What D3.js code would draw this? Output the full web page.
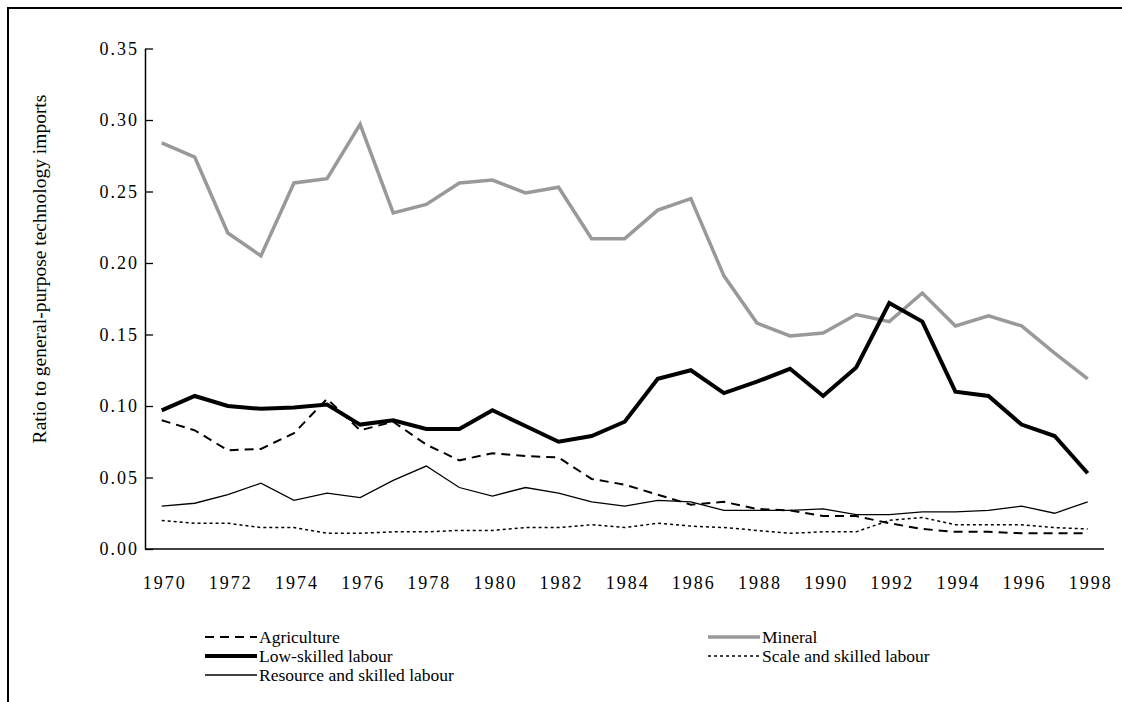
<!DOCTYPE html>
<html><head><meta charset="utf-8">
<script src="https://cdn.jsdelivr.net/npm/d3@7"></script>
<style>body{margin:0;background:#fff}svg{display:block}</style>
</head><body>
<script>
const years = d3.range(1970, 1999);
const agriculture = [0.090,0.083,0.069,0.070,0.081,0.105,0.083,0.089,0.073,0.062,0.067,0.065,0.064,0.049,0.045,0.038,0.031,0.033,0.028,0.027,0.023,0.023,0.018,0.014,0.012,0.012,0.011,0.011,0.011];
const mineral = [0.284,0.274,0.221,0.205,0.256,0.259,0.297,0.235,0.241,0.256,0.258,0.249,0.253,0.217,0.217,0.237,0.245,0.191,0.158,0.149,0.151,0.164,0.159,0.179,0.156,0.163,0.156,0.137,0.119];
const lowSkilled = [0.097,0.107,0.100,0.098,0.099,0.101,0.087,0.090,0.084,0.084,0.097,0.086,0.075,0.079,0.089,0.119,0.125,0.109,0.117,0.126,0.107,0.127,0.172,0.159,0.110,0.107,0.087,0.079,0.053];
const scaleSkilled = [0.020,0.018,0.018,0.015,0.015,0.011,0.011,0.012,0.012,0.013,0.013,0.015,0.015,0.017,0.015,0.018,0.016,0.015,0.013,0.011,0.012,0.012,0.020,0.022,0.017,0.017,0.017,0.015,0.014];
const resourceSkilled = [0.030,0.032,0.038,0.046,0.034,0.039,0.036,0.048,0.058,0.043,0.037,0.043,0.039,0.033,0.030,0.034,0.033,0.027,0.027,0.027,0.028,0.024,0.024,0.026,0.026,0.027,0.030,0.025,0.033];
const yTicks = [0,0.05,0.10,0.15,0.20,0.25,0.30,0.35];
const xTickLabels = d3.range(1970, 1999, 2);
const yTitle = "Ratio to general-purpose technology imports";

const FONT = "'Liberation Serif', 'Times New Roman', 'DejaVu Serif', serif";
const W = 1122, H = 702;
const svg = d3.select("body").append("svg").attr("width", W).attr("height", H)
  .style("font-family", FONT);
svg.append("rect").attr("x", 8).attr("y", 8).attr("width", 1300).attr("height", 900)
  .attr("fill", "none").attr("stroke", "#000").attr("stroke-width", 2);

const x = d3.scaleLinear().domain([1970, 1998]).range([161.7, 1087.7]);
const y = d3.scaleLinear().domain([0, 0.35]).range([549, 48.5]);
const axisLeftX = 145, axisRightX = 1104;

// y axis
const gy = svg.append("g").attr("transform", `translate(${axisLeftX},0)`);
gy.call(d3.axisLeft(y).tickValues(yTicks).tickFormat(d3.format(".2f")).tickSizeInner(-8).tickSizeOuter(0).tickPadding(6));
gy.attr("font-family", FONT).attr("font-size", 18);
gy.select(".domain").attr("stroke-width", 1.5);
gy.selectAll(".tick line").attr("stroke-width", 1.3);
gy.selectAll("text").style("font-family", FONT).attr("font-size", 18).attr("letter-spacing", 2);

// x axis
const gx = svg.append("g").attr("transform", `translate(0,${y(0)})`);
gx.append("line").attr("x1", axisLeftX).attr("x2", axisRightX).attr("stroke", "#000").attr("stroke-width", 1.5);
gx.selectAll("text").data(xTickLabels).join("text")
  .attr("x", d => x(d) + 3).attr("y", 40).attr("text-anchor", "middle").attr("font-size", 18)
  .attr("letter-spacing", 2).style("font-family", FONT).text(d => d);

// y title
svg.append("text").attr("transform", `translate(46,269) rotate(-90)`)
  .attr("text-anchor", "middle").attr("font-size", 19.5).style("font-family", FONT).text(yTitle);

const series = [
  {name: "Agriculture", vals: agriculture, color: "#000", w: 2, dash: "9,6"},
  {name: "Mineral", vals: mineral, color: "#999", w: 3.5, dash: null},
  {name: "Low-skilled labour", vals: lowSkilled, color: "#000", w: 4, dash: null},
  {name: "Scale and skilled labour", vals: scaleSkilled, color: "#000", w: 1.5, dash: "3,3"},
  {name: "Resource and skilled labour", vals: resourceSkilled, color: "#000", w: 1.3, dash: null}
];
const line = d3.line().x((d, i) => x(years[i])).y(d => y(d));
const drawOrder = [4, 3, 0, 1, 2];
drawOrder.forEach(k => {
  const s = series[k];
  svg.append("path").attr("d", line(s.vals)).attr("fill", "none").attr("stroke", s.color)
    .attr("stroke-width", s.w).attr("stroke-dasharray", s.dash).attr("stroke-linejoin", "miter");
});

// legend
const legendPos = [
  {k: 0, lx: 205, ly: 637}, {k: 1, lx: 708, ly: 637},
  {k: 2, lx: 205, ly: 656}, {k: 3, lx: 708, ly: 656},
  {k: 4, lx: 205, ly: 675}
];
legendPos.forEach(p => {
  const s = series[p.k];
  svg.append("line").attr("x1", p.lx).attr("x2", p.lx + 52).attr("y1", p.ly).attr("y2", p.ly)
    .attr("stroke", s.color).attr("stroke-width", s.w).attr("stroke-dasharray", s.dash);
  svg.append("text").attr("x", p.lx + 54).attr("y", p.ly + 5.5).attr("font-size", 17.5)
    .style("font-family", FONT).text(s.name);
});
</script>
</body></html>
